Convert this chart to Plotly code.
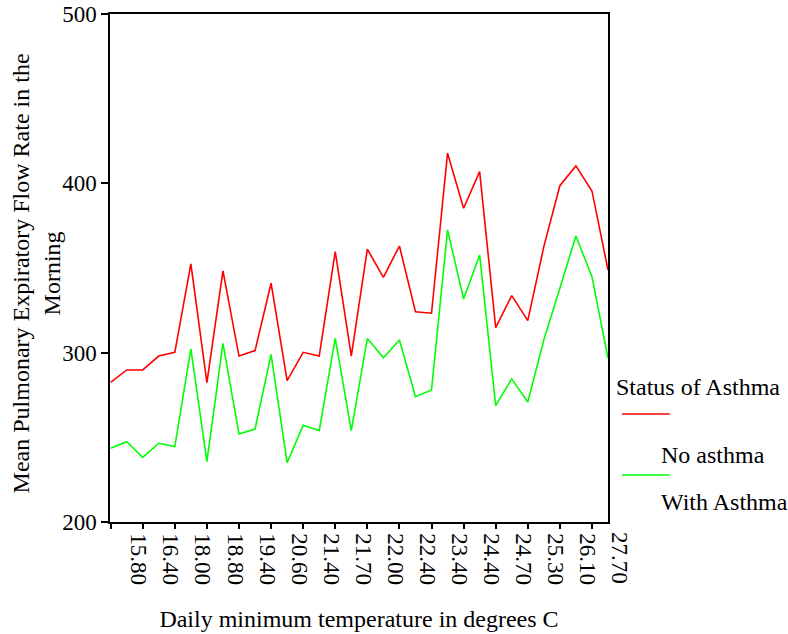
import plotly.graph_objects as go

# tick labels shown on the x axis (every second category, first one at position 2)
temp_labels = ["15.80", "16.40", "18.00", "18.80", "19.40", "20.60", "21.40", "21.70",
               "22.00", "22.40", "23.40", "24.40", "24.70", "25.30", "26.10", "27.70"]

# mean PEF in the morning, one value per temperature category
no_asthma = [282.5, 289.8, 289.8, 298.0, 300.2, 352.4, 282.3, 348.3, 298.0, 301.2,
             341.0, 283.5, 300.2, 298.0, 359.7, 298.0, 361.1, 344.5, 363.0, 324.2,
             323.3, 417.8, 385.3, 406.9, 314.8, 333.7, 318.9, 362.6, 398.6, 410.3,
             395.5, 348.8]
with_asthma = [243.5, 247.4, 238.2, 246.5, 244.5, 302.2, 235.6, 305.5, 252.0, 254.9,
               299.0, 235.0, 257.1, 253.9, 308.5, 253.9, 308.3, 297.0, 307.5, 274.0,
               278.0, 372.5, 331.7, 357.7, 268.7, 284.5, 270.9, 307.5, 338.0, 368.9,
               344.9, 296.7]

y_ticks = [200, 300, 400, 500]

FONT = "Liberation Serif, Times New Roman, serif"

pos = list(range(len(no_asthma)))
tick_pos = [2 * (i + 1) for i in range(len(temp_labels))]
x_range = [-0.04, 31.0]

fig = go.Figure()
fig.add_trace(go.Scatter(x=pos, y=no_asthma, mode="lines", name="No asthma",
                         line=dict(color="#ff0000", width=1.6)))
fig.add_trace(go.Scatter(x=pos, y=with_asthma, mode="lines", name="With Asthma",
                         line=dict(color="#00ff00", width=1.6)))

fig.update_layout(
    width=788, height=634,
    margin=dict(l=110, r=180, t=14, b=112),
    paper_bgcolor="white", plot_bgcolor="white",
    showlegend=False,
    font=dict(family=FONT, size=23, color="black"),
)

fig.update_xaxes(
    range=x_range, showgrid=False, zeroline=False, automargin=False,
    showline=True, linecolor="black", linewidth=1.5, mirror=True,
    tickmode="array", tickvals=[0] + tick_pos, ticktext=[""] + temp_labels,
    ticks="outside", ticklen=5, tickcolor="black", tickwidth=1.5,
    tickangle=90, tickfont=dict(size=23), ticklabelshift=-4,
    title=dict(text="Daily minimum temperature in degrees C", font=dict(size=24), standoff=26),
)
fig.update_yaxes(
    range=[200, 500], showgrid=False, zeroline=False, automargin=False,
    showline=True, linecolor="black", linewidth=1.5, mirror=True,
    tickmode="array", tickvals=y_ticks,
    ticks="outside", ticklen=7, tickcolor="black", tickwidth=1.5,
    tickfont=dict(size=23),
)

# y title as a rotated annotation (axis title gets clamped at the figure edge)
fig.add_annotation(x=-0.148, y=0.49, xref="paper", yref="paper",
                   text="Mean Pulmonary Expiratory Flow Rate in the<br>Morning",
                   textangle=-90, showarrow=False, xanchor="center", yanchor="middle",
                   font=dict(size=24))

# last category label sits past the right edge of the frame
last_x = (tick_pos[-1] - x_range[0]) / (x_range[1] - x_range[0])
fig.add_annotation(x=last_x, y=0, xref="paper", yref="paper", text=temp_labels[-1],
                   textangle=90, showarrow=False, xanchor="center", yanchor="top",
                   xshift=-4, yshift=-8, font=dict(size=23))

# legend, laid out like the original
fig.add_annotation(x=1.012, y=0.266, xref="paper", yref="paper", text="Status of Asthma",
                   showarrow=False, xanchor="left", yanchor="middle", font=dict(size=24))
fig.add_annotation(x=1.102, y=0.132, xref="paper", yref="paper", text="No asthma",
                   showarrow=False, xanchor="left", yanchor="middle", font=dict(size=24))
fig.add_annotation(x=1.102, y=0.039, xref="paper", yref="paper", text="With Asthma",
                   showarrow=False, xanchor="left", yanchor="middle", font=dict(size=24))
fig.add_shape(type="line", xref="paper", yref="paper", x0=1.028, x1=1.124, y0=0.2126, y1=0.2126,
              line=dict(color="#ff0000", width=1.6))
fig.add_shape(type="line", xref="paper", yref="paper", x0=1.028, x1=1.124, y0=0.0925, y1=0.0925,
              line=dict(color="#00ff00", width=1.6))

# drop the default body margin so the figure fills the window
fig.write_html("out.html", config={"displayModeBar": False},
               post_script="document.body.style.margin = '0px';")
